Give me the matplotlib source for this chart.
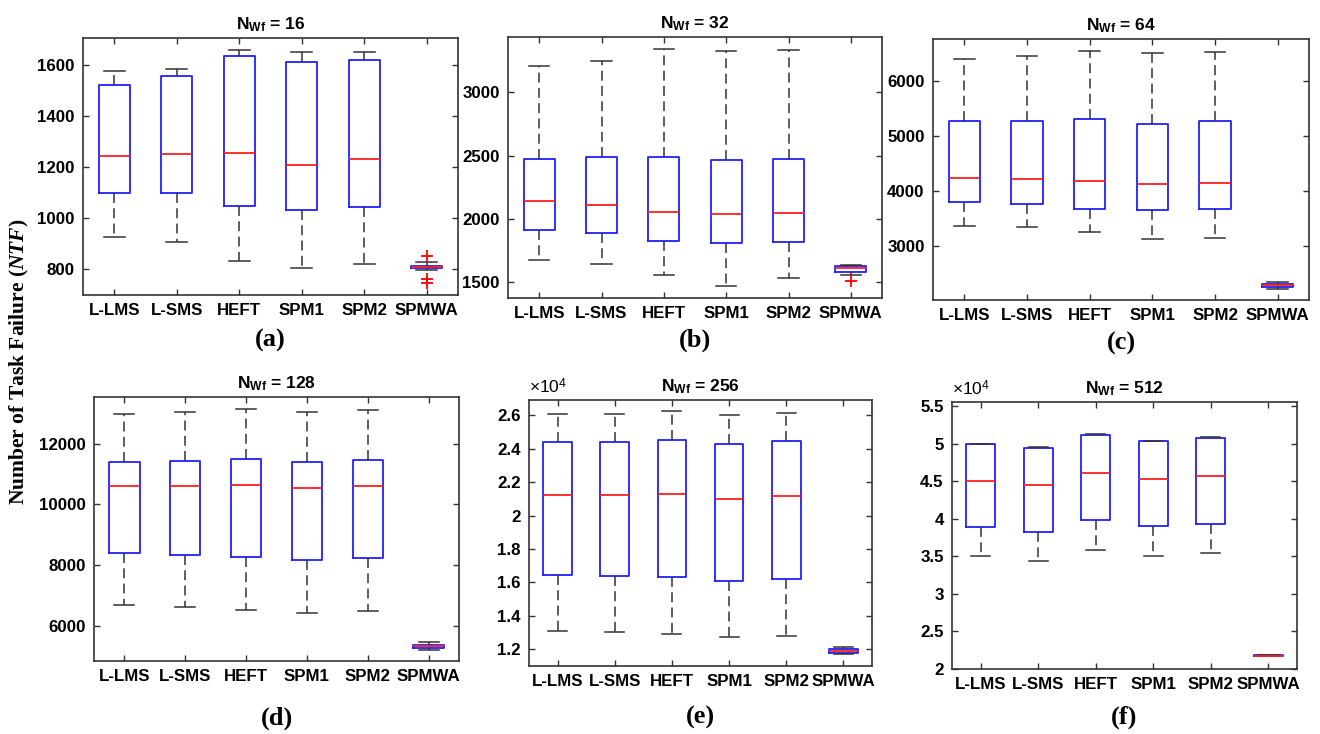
import matplotlib
matplotlib.use('Agg')
import matplotlib.pyplot as plt
from matplotlib.ticker import FuncFormatter

methods = ['L-LMS', 'L-SMS', 'HEFT', 'SPM1', 'SPM2', 'SPMWA']
n_wf = [16, 32, 64, 128, 256, 512]
tags = ['(a)', '(b)', '(c)', '(d)', '(e)', '(f)']

# each row: lower whisker, Q1, median, Q3, upper whisker
stats_16 = [[925, 1100, 1244, 1520, 1576],
            [904, 1097, 1250, 1556, 1584],
            [830, 1048, 1253, 1635, 1659],
            [803, 1033, 1208, 1612, 1651],
            [820, 1042, 1232, 1618, 1651],
            [797, 802, 806, 811, 827]]
stats_32 = [[1676, 1916, 2142, 2474, 3205],
            [1642, 1892, 2108, 2487, 3245],
            [1558, 1824, 2055, 2487, 3345],
            [1468, 1808, 2042, 2463, 3324],
            [1534, 1818, 2050, 2474, 3337],
            [1560, 1579, 1610, 1626, 1634]]
stats_64 = [[3369, 3794, 4236, 5260, 6399],
            [3339, 3758, 4224, 5266, 6448],
            [3248, 3673, 4182, 5302, 6539],
            [3127, 3655, 4127, 5218, 6508],
            [3139, 3667, 4151, 5266, 6514],
            [2226, 2257, 2293, 2311, 2353]]
stats_128 = [[6664, 8382, 10605, 11383, 12980],
             [6609, 8338, 10616, 11439, 13035],
             [6510, 8271, 10649, 11483, 13156],
             [6400, 8161, 10539, 11383, 13057],
             [6477, 8235, 10616, 11461, 13123],
             [5207, 5273, 5328, 5361, 5450]]
stats_256 = [[13120, 16430, 21210, 24380, 26060],
             [13060, 16390, 21230, 24420, 26100],
             [12940, 16310, 21270, 24520, 26240],
             [12720, 16090, 20970, 24260, 26040],
             [12820, 16210, 21170, 24440, 26140],
             [11720, 11800, 11920, 12040, 12140]]
stats_512 = [[35000, 38870, 45050, 49940, 50020],
             [34420, 38250, 44510, 49490, 49580],
             [35880, 39790, 46150, 51180, 51260],
             [35040, 39000, 45310, 50380, 50420],
             [35490, 39350, 45700, 50780, 50860],
             [21670, 21720, 21780, 21850, 21900]]
outliers_16 = [[], [], [], [], [], [852, 761, 746]]
outliers_32 = [[], [], [], [], [], [1508]]

all_stats = [stats_16, stats_32, stats_64, stats_128, stats_256, stats_512]
all_outliers = [outliers_16, outliers_32, [[]] * 6, [[]] * 6, [[]] * 6, [[]] * 6]

y_limits = [(698, 1706), (1376, 3437), (2020, 6756),
            (4833, 13541), (11003, 26917), (20000, 55580)]
y_ticks = [range(800, 1601, 200), range(1500, 3001, 500), range(3000, 6001, 1000),
           range(6000, 12001, 2000), range(12000, 26001, 2000), range(20000, 55001, 5000)]

# axes boxes in pixels: left, right, top, bottom
boxes_px = [(83, 458, 38, 295), (508, 882, 37, 298), (933, 1309, 39, 300),
            (94, 459, 397, 661), (529, 872, 400, 666), (952, 1297, 402, 669)]
tag_y_px = [340, 340, 343, 718, 717, 717]

plt.rcParams['font.family'] = ['Liberation Sans', 'DejaVu Sans']
plt.rcParams['mathtext.fontset'] = 'custom'
plt.rcParams['mathtext.rm'] = 'Liberation Sans'
plt.rcParams['mathtext.bf'] = 'Liberation Sans:bold'
plt.rcParams['mathtext.it'] = 'Liberation Serif:bold:italic'

W, H = 1320, 734
fig = plt.figure(figsize=(W / 100, H / 100), dpi=100)
frame_col = '#333333'

for i in range(6):
    l, r, t, b = boxes_px[i]
    ax = fig.add_axes([l / W, 1 - b / H, (r - l) / W, (b - t) / H])
    bxp_stats = []
    for m, row in enumerate(all_stats[i]):
        lo, q1, med, q3, hi = row
        bxp_stats.append(dict(whislo=lo, q1=q1, med=med, q3=q3, whishi=hi,
                              fliers=all_outliers[i][m], label=methods[m]))
    ax.bxp(bxp_stats, positions=range(1, 7), widths=0.5, capwidths=0.33,
           boxprops=dict(color='#2020ff', linewidth=1.3),
           medianprops=dict(color='#ff2020', linewidth=1.3),
           whiskerprops=dict(color='#333333', linewidth=1.1, linestyle=(0, (6.5, 3.5))),
           capprops=dict(color='#333333', linewidth=1.1),
           flierprops=dict(marker='+', markeredgecolor='red', markersize=9, markeredgewidth=1.3))
    ax.set_xlim(0.5, 6.5)
    ax.set_ylim(*y_limits[i])
    ax.set_yticks(list(y_ticks[i]))
    if i >= 4:
        ax.yaxis.set_major_formatter(FuncFormatter(lambda v, p: f'{v / 1e4:g}'))
        ax.text(0, 1.012, r'$\times$10$^4$', transform=ax.transAxes, fontsize=12.5,
                ha='left', va='bottom')
    ax.set_xticks(range(1, 7))
    ax.set_xticklabels(methods)
    ax.tick_params(direction='in', length=4, width=1, top=True, right=True,
                   color=frame_col, labelsize=12.2, pad=6)
    for lab in ax.get_xticklabels() + ax.get_yticklabels():
        lab.set_fontweight('bold')
    for s in ax.spines.values():
        s.set_color(frame_col)
        s.set_linewidth(1.2)
    ax.set_title(r'$\mathbf{N}_{\mathbf{Wf}}$ = %d' % n_wf[i], fontsize=12.5,
                 fontweight='bold', pad=6)
    fig.text((l + r) / 2 / W, 1 - tag_y_px[i] / H, tags[i], ha='center', va='center',
             fontsize=19, fontweight='bold', family='Liberation Serif')

fig.text(19 / W, 1 - 362 / H, 'Number of Task Failure ($NTF$)',
         rotation=90, ha='center', va='center', fontsize=15.5, fontweight='bold',
         family='Liberation Serif')

fig.savefig('out.png', dpi=100)
